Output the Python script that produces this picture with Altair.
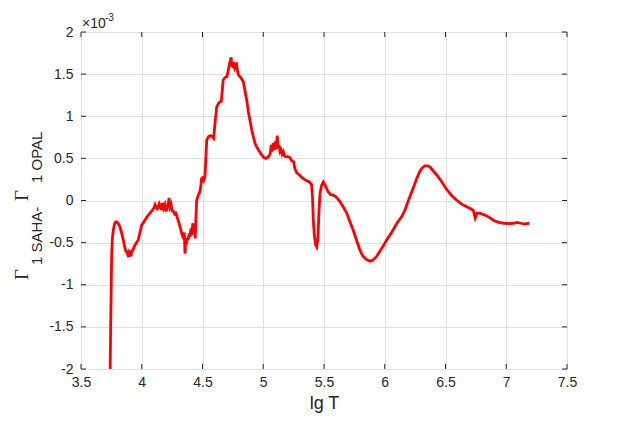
import altair as alt
import pandas as pd

# ---- data (y in units of 1e-3) ----
lgT = [3.740, 3.745, 3.749, 3.752, 3.758, 3.766, 3.776, 3.785, 3.795,
       3.805, 3.820, 3.835, 3.848, 3.860, 3.868, 3.876, 3.884, 3.890, 3.898, 3.905, 3.912, 3.917,
       3.930, 3.944, 3.958, 3.970, 3.985, 4.000, 4.015, 4.027, 4.045, 4.068, 4.085, 4.100, 4.110,
       4.120, 4.128, 4.136, 4.145, 4.155, 4.163, 4.170, 4.180, 4.190, 4.200, 4.210, 4.218, 4.225,
       4.233, 4.242, 4.250, 4.260, 4.270, 4.280, 4.290, 4.300, 4.315, 4.325, 4.337, 4.345, 4.350,
       4.356, 4.362, 4.368, 4.375, 4.382, 4.390, 4.397, 4.405, 4.412, 4.420, 4.428, 4.435, 4.440,
       4.446, 4.452, 4.462, 4.474, 4.484, 4.492, 4.500, 4.510, 4.520, 4.535, 4.550, 4.565, 4.580,
       4.592, 4.605, 4.617, 4.630, 4.644, 4.655, 4.670, 4.685, 4.700, 4.713, 4.722, 4.729, 4.735,
       4.742, 4.750, 4.757, 4.765, 4.772, 4.780, 4.790, 4.800, 4.815, 4.836, 4.850, 4.864, 4.877,
       4.890, 4.905, 4.918, 4.932, 4.945, 4.965, 4.987, 5.005, 5.020, 5.035, 5.048, 5.058, 5.066,
       5.074, 5.082, 5.090, 5.098, 5.106, 5.115, 5.122, 5.130, 5.138, 5.146, 5.155, 5.165, 5.175,
       5.185, 5.200, 5.220, 5.235, 5.250, 5.260, 5.275, 5.300, 5.320, 5.350, 5.380, 5.398, 5.405,
       5.412, 5.420, 5.430, 5.440, 5.450, 5.458, 5.467, 5.480, 5.494, 5.510, 5.535, 5.555, 5.576,
       5.600, 5.630, 5.660, 5.687, 5.710, 5.740, 5.770, 5.796, 5.820, 5.850, 5.880, 5.900, 5.930,
       5.970, 6.016, 6.060, 6.100, 6.140, 6.167, 6.200, 6.235, 6.260, 6.290, 6.310, 6.330, 6.350,
       6.370, 6.400, 6.430, 6.470, 6.510, 6.550, 6.590, 6.630, 6.670, 6.710, 6.730, 6.745, 6.760,
       6.780, 6.820, 6.860, 6.900, 6.940, 6.980, 7.020, 7.060, 7.090, 7.120, 7.150, 7.190]
dGamma = [-2.00, -1.40, -1.00, -0.67, -0.45, -0.35, -0.28, -0.255, -0.255,
          -0.27, -0.31, -0.39, -0.47, -0.55, -0.60, -0.61, -0.64, -0.62, -0.67, -0.63, -0.66, -0.61,
          -0.58, -0.53, -0.50, -0.47, -0.38, -0.29, -0.26, -0.23, -0.19, -0.15, -0.12, -0.09, -0.05,
          -0.08, -0.10, -0.09, -0.04, -0.07, -0.11, -0.03, -0.09, -0.05, -0.13, -0.08, -0.04, 0.03,
          -0.08, -0.05, -0.12, -0.13, -0.16, -0.15, -0.19, -0.24, -0.31, -0.37, -0.43, -0.45, -0.38,
          -0.63, -0.48, -0.52, -0.44, -0.47, -0.39, -0.43, -0.33, -0.41, -0.27, -0.38, -0.30, -0.45,
          -0.20, 0.00, 0.05, 0.09, 0.14, 0.26, 0.27, 0.24, 0.28, 0.72, 0.76, 0.77, 0.76,
          0.74, 0.95, 1.11, 1.15, 1.17, 1.18, 1.43, 1.46, 1.47, 1.55, 1.62, 1.66, 1.70,
          1.60, 1.59, 1.64, 1.58, 1.61, 1.62, 1.52, 1.48, 1.46, 1.41, 1.30, 1.19, 1.06,
          0.955, 0.84, 0.76, 0.68, 0.64, 0.59, 0.54, 0.51, 0.50, 0.51, 0.53, 0.56, 0.66,
          0.58, 0.68, 0.60, 0.70, 0.61, 0.77, 0.62, 0.66, 0.58, 0.60, 0.55, 0.58, 0.53,
          0.52, 0.52, 0.51, 0.47, 0.46, 0.38, 0.33, 0.30, 0.27, 0.24, 0.22, 0.19, 0.05,
          -0.23, -0.40, -0.52, -0.55, -0.45, -0.15, 0.08, 0.18, 0.22, 0.18, 0.10, 0.07, 0.065,
          0.04, -0.01, -0.08, -0.15, -0.24, -0.35, -0.48, -0.59, -0.66, -0.70, -0.72, -0.71, -0.67,
          -0.58, -0.47, -0.37, -0.27, -0.19, -0.11, 0.02, 0.15, 0.25, 0.35, 0.39, 0.41, 0.41,
          0.40, 0.35, 0.30, 0.22, 0.13, 0.06, 0.006, -0.04, -0.07, -0.10, -0.12, -0.21, -0.15,
          -0.15, -0.17, -0.20, -0.24, -0.26, -0.27, -0.275, -0.27, -0.26, -0.27, -0.28, -0.27]

x_ticks = [3.5, 4, 4.5, 5, 5.5, 6, 6.5, 7, 7.5]
y_ticks = [-2, -1.5, -1, -0.5, 0, 0.5, 1, 1.5, 2]

W, H = 486, 337
AX = "#262626"
SANS = "Liberation Sans"
SERIF = "Liberation Serif"

df = pd.DataFrame({"lgT": lgT, "d": dGamma})
dfx = pd.DataFrame({"lgT": x_ticks})
dfy = pd.DataFrame({"d": y_ticks})
one = pd.DataFrame({"k": [0]})

xscale = alt.Scale(domain=[3.5, 7.5], nice=False, zero=False)
yscale = alt.Scale(domain=[-2, 2], nice=False, zero=False)
xaxis = alt.Axis(values=x_ticks, grid=True, gridColor="#dfdfdf", gridWidth=1, domain=False,
                 ticks=False, labelFontSize=14, labelColor=AX, labelFont=SANS,
                 labelPadding=6, labelFlush=False, labelExpr="'' + datum.value",
                 title="lg T", titleFont=SANS, titleFontSize=18,
                 titleFontWeight="normal", titleColor=AX, titlePadding=5)
yaxis = alt.Axis(values=y_ticks, grid=True, gridColor="#dfdfdf", gridWidth=1, domain=False,
                 ticks=False, labelFontSize=14, labelColor=AX, labelFont=SANS,
                 labelPadding=8, labelExpr="'' + datum.value", title="")

X = alt.X("lgT:Q", scale=xscale, axis=xaxis)
Y = alt.Y("d:Q", scale=yscale, axis=yaxis)

line = alt.Chart(df).mark_line(color="#ff0000", strokeWidth=2.8, clip=True).encode(
    x=X, y=Y, order="lgT:Q")

tick_bot = alt.Chart(dfx).mark_rule(color=AX, strokeWidth=1).encode(
    x=X, y=alt.value(H), y2=alt.value(H - 5))
tick_top = alt.Chart(dfx).mark_rule(color=AX, strokeWidth=1).encode(
    x=X, y=alt.value(0), y2=alt.value(5))
tick_left = alt.Chart(dfy).mark_rule(color=AX, strokeWidth=1).encode(
    y=Y, x=alt.value(0), x2=alt.value(5))
tick_right = alt.Chart(dfy).mark_rule(color=AX, strokeWidth=1).encode(
    y=Y, x=alt.value(W - 5), x2=alt.value(W))


def txt(s, x, y, size, font=SANS, angle=0):
    return alt.Chart(one).mark_text(text=s, font=font, fontSize=size, size=size, color=AX,
                                    align="left", baseline="alphabetic", angle=angle).encode(
        x=alt.value(x), y=alt.value(y))


labels = [
    txt("×10", 1, -4, 14),
    txt("-3", 24, -11, 10),
    txt("Γ", -53, 248, 19, SERIF, 270),
    txt("1 SAHA-", -39, 233, 15, SANS, 270),
    txt("Γ", -53, 169, 19, SERIF, 270),
    txt("1 OPAL", -39, 151, 15, SANS, 270),
]

chart = alt.layer(line, tick_bot, tick_top, tick_left, tick_right, *labels).properties(
    width=W, height=H,
    autosize=alt.AutoSizeParams(type="none"),
    padding={"left": 73, "top": 24, "right": 20, "bottom": 50},
).configure_view(stroke=AX, strokeWidth=1).configure(background="white")

chart.save("out.html", embed_options={"renderer": "svg", "actions": False})
